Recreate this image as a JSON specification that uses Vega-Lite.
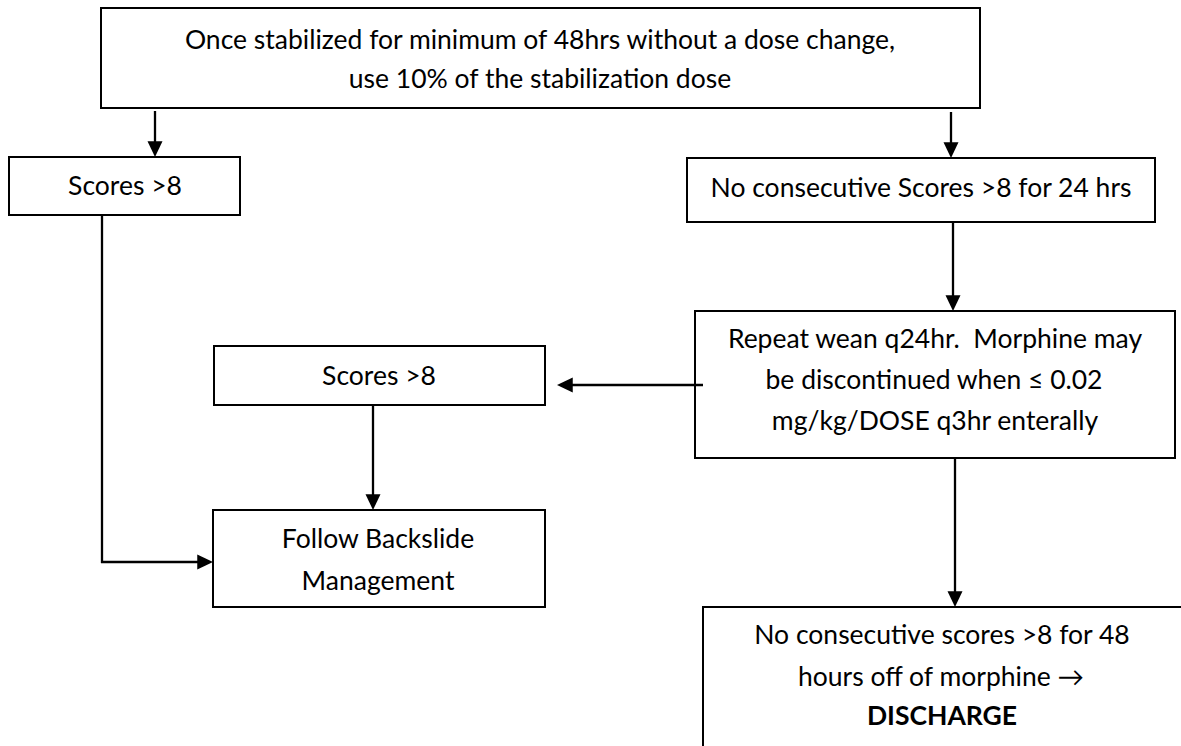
{
  "$schema": "https://vega.github.io/schema/vega-lite/v6.json",
  "width": 1181,
  "height": 746,
  "padding": 0,
  "autosize": {"type": "fit", "contains": "padding"},
  "background": "white",
  "config": {"view": {"stroke": null}},
  "layer": [
    {
      "data": {"values": [
        {"id": "start", "x1": 101, "x2": 980, "y1": 8, "y2": 108},
        {"id": "scoresLeft", "x1": 9, "x2": 240, "y1": 157, "y2": 215},
        {"id": "noConsec24", "x1": 687, "x2": 1155, "y1": 158, "y2": 222},
        {"id": "repeatWean", "x1": 695, "x2": 1175, "y1": 311, "y2": 458},
        {"id": "scoresMid", "x1": 214, "x2": 545, "y1": 346, "y2": 405},
        {"id": "backslide", "x1": 213, "x2": 545, "y1": 510, "y2": 607},
        {"id": "discharge", "x1": 703, "x2": 1220, "y1": 607, "y2": 800}
      ]},
      "mark": {"type": "rect", "fill": "white", "stroke": "black", "strokeWidth": 2, "clip": true},
      "encoding": {
        "x": {"field": "x1", "type": "quantitative", "scale": {"domain": [0, 1181], "nice": false, "zero": false}, "axis": null},
        "x2": {"field": "x2"},
        "y": {"field": "y1", "type": "quantitative", "scale": {"domain": [0, 746], "nice": false, "zero": false, "reverse": true}, "axis": null},
        "y2": {"field": "y2"}
      }
    },
    {
      "data": {"values": [
        {"x1": 155, "y1": 111, "x2": 155, "y2": 150},
        {"x1": 951, "y1": 112, "x2": 951, "y2": 151},
        {"x1": 953, "y1": 222, "x2": 953, "y2": 304},
        {"x1": 703, "y1": 385, "x2": 563, "y2": 385},
        {"x1": 373, "y1": 405, "x2": 373, "y2": 503},
        {"x1": 102, "y1": 215, "x2": 102, "y2": 563},
        {"x1": 101, "y1": 562, "x2": 206, "y2": 562},
        {"x1": 955, "y1": 458, "x2": 955, "y2": 600}
      ]},
      "mark": {"type": "rule", "color": "black", "strokeWidth": 2.3},
      "encoding": {
        "x": {"field": "x1", "type": "quantitative"},
        "x2": {"field": "x2"},
        "y": {"field": "y1", "type": "quantitative"},
        "y2": {"field": "y2"}
      }
    },
    {
      "data": {"values": [
        {"x": 155, "y": 157, "dir": "down"},
        {"x": 951, "y": 158, "dir": "down"},
        {"x": 953, "y": 311, "dir": "down"},
        {"x": 557, "y": 385, "dir": "left"},
        {"x": 373, "y": 510, "dir": "down"},
        {"x": 213, "y": 562, "dir": "right"},
        {"x": 955, "y": 607, "dir": "down"}
      ]},
      "mark": {"type": "point", "filled": true, "color": "black", "opacity": 1, "size": 900, "strokeWidth": 0},
      "encoding": {
        "x": {"field": "x", "type": "quantitative"},
        "y": {"field": "y", "type": "quantitative"},
        "shape": {"field": "dir", "type": "nominal", "legend": null, "scale": {"domain": ["down", "left", "right"], "range": ["M0,0L-0.5,-1.05L0.5,-1.05Z", "M0,0L1.05,-0.5L1.05,0.5Z", "M0,0L-1.05,-0.5L-1.05,0.5Z"]}}
      }
    },
    {
      "data": {"values": [
        {"x": 540, "y": 41, "label": "Once stabilized for minimum of 48hrs without a dose change,"},
        {"x": 540, "y": 80, "label": "use 10% of the stabilization dose"},
        {"x": 125, "y": 187, "label": "Scores >8"},
        {"x": 921, "y": 189, "label": "No consecutive Scores >8 for 24 hrs"},
        {"x": 935, "y": 340, "label": "Repeat wean q24hr.\u00a0 Morphine may"},
        {"x": 934, "y": 381, "label": "be discontinued when ≤ 0.02"},
        {"x": 935, "y": 422, "label": "mg/kg/DOSE q3hr enterally"},
        {"x": 379, "y": 377, "label": "Scores >8"},
        {"x": 378, "y": 540, "label": "Follow Backslide"},
        {"x": 378, "y": 582, "label": "Management"},
        {"x": 942, "y": 636, "label": "No consecutive scores >8 for 48"},
        {"x": 941, "y": 678, "label": "hours off of morphine →"}
      ]},
      "mark": {"type": "text", "font": "Lato, DejaVu Sans", "fontSize": 26.5, "align": "center", "baseline": "middle", "color": "black"},
      "encoding": {
        "x": {"field": "x", "type": "quantitative"},
        "y": {"field": "y", "type": "quantitative"},
        "text": {"field": "label"}
      }
    },
    {
      "data": {"values": [
        {"x": 942, "y": 717, "label": "DISCHARGE"}
      ]},
      "mark": {"type": "text", "font": "Lato, DejaVu Sans", "fontSize": 26.5, "fontWeight": "bold", "align": "center", "baseline": "middle", "color": "black"},
      "encoding": {
        "x": {"field": "x", "type": "quantitative"},
        "y": {"field": "y", "type": "quantitative"},
        "text": {"field": "label"}
      }
    }
  ]
}
